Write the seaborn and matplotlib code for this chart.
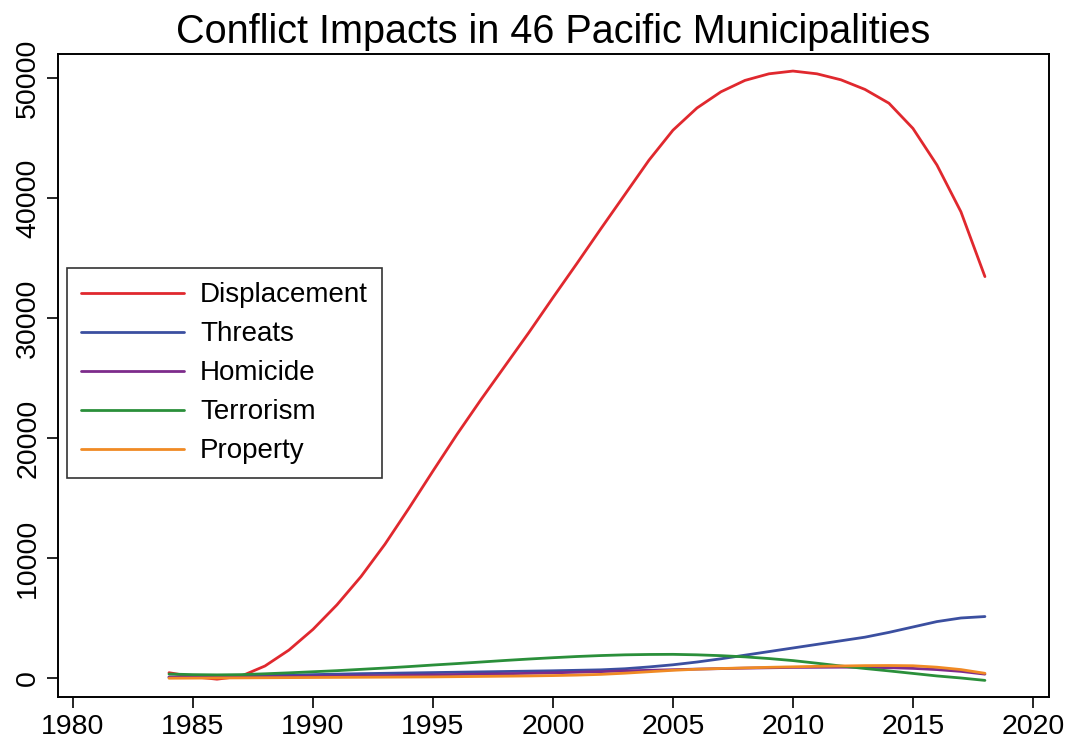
import numpy as np
import pandas as pd
import seaborn as sns
from matplotlib import pyplot as plt

years = list(range(1984, 2019))

displacement = [440, 110, -100, 150, 1000, 2330, 4050, 6100, 8450, 11150,
                14150, 17250, 20300, 23200, 26000, 28800, 31700, 34550, 37450, 40300,
                43150, 45650, 47500, 48850, 49800, 50350, 50580, 50350, 49850, 49050,
                47900, 45800, 42750, 38850, 33450]
threats = [80, 100, 130, 170, 200, 240, 280, 320, 360, 390,
           420, 450, 480, 510, 540, 570, 600, 640, 680, 770,
           920, 1100, 1330, 1600, 1900, 2200, 2500, 2800, 3100, 3400,
           3800, 4250, 4700, 5000, 5120]
homicide = [60, 70, 80, 90, 100, 120, 140, 160, 180, 200,
            230, 260, 290, 320, 350, 390, 430, 480, 530, 590,
            640, 690, 740, 780, 820, 850, 880, 890, 900, 890,
            860, 800, 700, 550, 320]
terrorism = [330, 280, 260, 280, 350, 430, 520, 610, 720, 830,
             950, 1080, 1200, 1330, 1460, 1580, 1690, 1790, 1870, 1930,
             1960, 1970, 1930, 1860, 1760, 1620, 1450, 1230, 1000, 790,
             590, 380, 170, 0, -200]
property_ = [-20, -10, 0, 10, 20, 30, 40, 50, 60, 70,
             80, 90, 110, 130, 150, 170, 200, 240, 300, 400,
             520, 640, 730, 790, 840, 890, 930, 970, 1000, 1030,
             1040, 1020, 900, 700, 390]

series = ['Displacement', 'Threats', 'Homicide', 'Terrorism', 'Property']
colors = ['#e0282e', '#3b4fa0', '#7d2b8b', '#2a8f3a', '#f08a24']


def build_frame():
    values = [displacement, threats, homicide, terrorism, property_]
    frames = []
    for name, vals in zip(series, values):
        frames.append(pd.DataFrame({'year': years, 'value': vals, 'type': name}))
    return pd.concat(frames, ignore_index=True)


def main():
    sns.set_style('white')
    plt.rcParams['font.family'] = ['Liberation Sans', 'DejaVu Sans']
    plt.rcParams['text.color'] = 'black'
    plt.rcParams['axes.labelcolor'] = 'black'

    df = build_frame()

    fig = plt.figure(figsize=(10.8, 7.44), dpi=100)
    ax = fig.add_axes([0.0537, 0.0632, 0.9176, 0.8642])

    sns.lineplot(data=df, x='year', y='value', hue='type', hue_order=series,
                 palette=colors, linewidth=2.0, ax=ax)

    ax.set_xlim(1979.375, 2020.67)
    ax.set_ylim(-1583, 52000)
    ax.set_xticks(range(1980, 2021, 5))
    ax.set_yticks(range(0, 50001, 10000))
    ax.set_xlabel('')
    ax.set_ylabel('')
    ax.set_title('Conflict Impacts in 46 Pacific Municipalities', fontsize=28.5,
                 color='black', pad=8)

    ax.tick_params(axis='both', direction='out', length=8, width=1.2,
                   labelsize=20.5, colors='black', bottom=True, left=True, pad=4)
    for lab in ax.get_yticklabels():
        lab.set_rotation(90)
        lab.set_va('center')
    for s in ax.spines.values():
        s.set_color('black')
        s.set_linewidth(1.4)

    leg = ax.legend(loc='lower left', bbox_to_anchor=(0.009, 0.34), fontsize=20,
                    frameon=True, fancybox=False, edgecolor='black',
                    handlelength=3.7, handletextpad=0.6, labelspacing=0.47,
                    borderpad=0.5, borderaxespad=0)
    leg.get_frame().set_linewidth(1.2)
    for t in leg.get_texts():
        t.set_color('black')

    fig.savefig('out.png', dpi=100, facecolor='white')


if __name__ == '__main__':
    main()
